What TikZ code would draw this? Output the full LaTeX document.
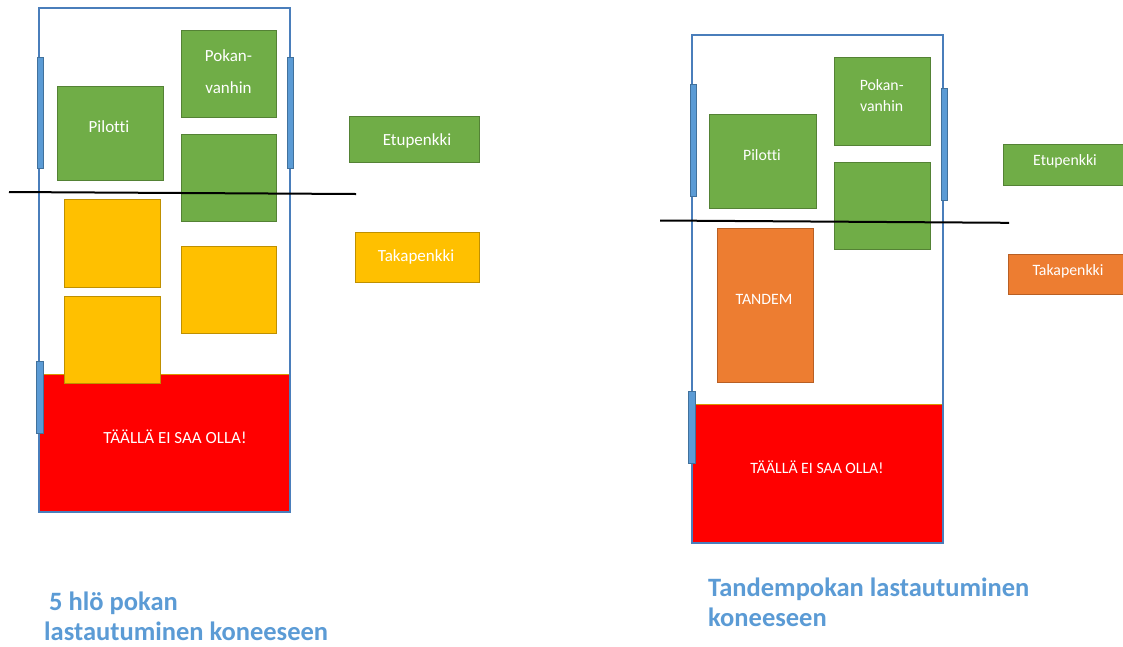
\documentclass[tikz,border=0pt]{standalone}
\usepackage{fontspec}
\setmainfont[Ligatures=NoCommon]{Carlito}

\definecolor{seatgreen}{HTML}{70AD47}
\definecolor{seatgreenline}{HTML}{548235}
\definecolor{seatyellow}{HTML}{FFC000}
\definecolor{seatyellowline}{HTML}{BF9000}
\definecolor{seatorange}{HTML}{ED7D31}
\definecolor{seatorangeline}{HTML}{B85F24}
\definecolor{nozone}{HTML}{FF0000}
\definecolor{nozoneline}{HTML}{D99400}
\definecolor{hullline}{HTML}{4A7EBB}
\definecolor{doorblue}{HTML}{5B9BD5}
\definecolor{doorline}{HTML}{41719C}
\definecolor{captionblue}{HTML}{5B9BD5}

\begin{document}
\begin{tikzpicture}[x=1pt, y=-1pt]
    \tikzstyle{hull}       = [shape = rectangle, draw = hullline, line width=1.3pt, inner sep=0pt]
    \tikzstyle{no_zone}    = [shape = rectangle, fill = nozone, draw = nozoneline, line width=0.8pt, inner sep=0pt]
    \tikzstyle{seat_g}     = [shape = rectangle, fill = seatgreen,  draw = seatgreenline,  line width=0.9pt, inner sep=0pt]
    \tikzstyle{seat_y}     = [shape = rectangle, fill = seatyellow, draw = seatyellowline, line width=0.9pt, inner sep=0pt]
    \tikzstyle{seat_o}     = [shape = rectangle, fill = seatorange, draw = seatorangeline, line width=0.9pt, inner sep=0pt]
    \tikzstyle{door}       = [shape = rectangle, fill = doorblue, draw = doorline, line width=0.7pt, inner sep=0pt, minimum width=6pt]
    \tikzstyle{seat_txt}   = [text = white, inner sep=0pt, font=\fontsize{17}{20}\selectfont]
    \tikzstyle{seat_txt__b}= [text = white, inner sep=0pt, font=\fontsize{15.8}{19}\selectfont]
    \tikzstyle{caption}    = [text = captionblue, inner sep=0pt, anchor=base west, font=\fontsize{26.5}{30}\selectfont\bfseries]

    \useasboundingbox (0,0) rectangle (1123,646);

    % 5 hlo poka
    \node[no_zone, minimum width=250pt, minimum height=138pt] at (164.5, 443.0) (red_a) {};
    \node[hull,    minimum width=251pt, minimum height=504pt] at (164.5, 260.0) (hull_a) {};

    \node[seat_g, minimum width=95pt,  minimum height=87pt] at (228.5,  73.5) (pok_a) {};
    \node[seat_g, minimum width=106pt, minimum height=94pt] at (110.0, 133.0) (pil_a) {};
    \node[seat_g, minimum width=95pt,  minimum height=87pt] at (228.5, 177.5) (front_a) {};
    \node[seat_y, minimum width=96pt,  minimum height=88pt] at (112.0, 243.0) (rear1_a) {};
    \node[seat_y, minimum width=96pt,  minimum height=87pt] at (112.0, 339.5) (rear2_a) {};
    \node[seat_y, minimum width=95pt,  minimum height=87pt] at (228.5, 289.5) (rear3_a) {};
    \node[seat_g, minimum width=130pt, minimum height=46pt] at (414.0, 139.0) (etu_a) {};
    \node[seat_y, minimum width=124pt, minimum height=50pt] at (417.0, 257.0) (taka_a) {};

    \node[door, minimum height=111pt] at ( 40.0, 112.5) (door1_a) {};
    \node[door, minimum height=111pt] at (290.0, 112.5) (door2_a) {};
    \node[door, minimum height=72pt, minimum width=7pt] at (39.5, 397.0) (door3_a) {};

    \coordinate (cg_a1) at (  9, 192);
    \coordinate (cg_a2) at (356, 194);
    \draw[black, line width=2pt] (cg_a1) -- (cg_a2);

    \node[seat_txt] at (109.0, 127.0) (pil_a_t) {Pilotti};
    \node[seat_txt, align=center, font=\fontsize{17}{31.6}\selectfont] at (228.5, 71.5) (pok_a_t) {Pokan-\\vanhin};
    \node[seat_txt] at (417.0, 141.0) (etu_a_t) {Etupenkki};
    \node[seat_txt] at (416.0, 257.0) (taka_a_t) {Takapenkki};
    \node[seat_txt] at (175.0, 437.0) (red_a_t) {TÄÄLLÄ EI SAA OLLA!};

    \node[caption] at (49.0, 610.0) (cap_a1) {5 hlö pokan};
    \node[caption] at (44.0, 640.0) (cap_a2) {lastautuminen koneeseen};

    % tandempoka
    \node[no_zone, minimum width=251pt, minimum height=139pt] at (817.5, 473.5) (red_b) {};
    \node[hull,    minimum width=251pt, minimum height=508pt] at (817.5, 289.0) (hull_b) {};

    \node[seat_g, minimum width=96pt,  minimum height=88pt]  at (882.0, 101.0) (pok_b) {};
    \node[seat_g, minimum width=107pt, minimum height=94pt]  at (762.5, 161.0) (pil_b) {};
    \node[seat_g, minimum width=96pt,  minimum height=87pt]  at (882.0, 205.5) (front_b) {};
    \node[seat_o, minimum width=96pt,  minimum height=154pt] at (765.0, 305.0) (tandem_b) {};
    \node[seat_g, minimum width=125pt, minimum height=41pt]  at (1065.5, 164.5) (etu_b) {};
    \node[seat_o, minimum width=120pt, minimum height=40pt]  at (1068.0, 274.0) (taka_b) {};

    \node[door, minimum height=112pt] at (693.0, 140.5) (door1_b) {};
    \node[door, minimum height=112pt] at (944.0, 144.5) (door2_b) {};
    \node[door, minimum height=72pt, minimum width=7pt] at (692.0, 427.0) (door3_b) {};

    \coordinate (cg_b1) at ( 660, 220.5);
    \coordinate (cg_b2) at (1009, 222.8);
    \draw[black, line width=2pt] (cg_b1) -- (cg_b2);

    \node[seat_txt__b] at (762.0, 155.0) (pil_b_t) {Pilotti};
    \node[seat_txt__b, align=center, font=\fontsize{15.8}{20.3}\selectfont] at (881.7, 95.6) (pok_b_t) {Pokan-\\vanhin};
    \node[seat_txt__b] at (764.0, 299.0) (tandem_b_t) {TANDEM};
    \node[seat_txt__b] at (1065.0, 161.0) (etu_b_t) {Etupenkki};
    \node[seat_txt__b] at (1068.0, 271.0) (taka_b_t) {Takapenkki};
    \node[seat_txt__b] at (817.0, 467.0) (red_b_t) {TÄÄLLÄ EI SAA OLLA!};

    \node[caption] at (708.0, 596.7) (cap_b1) {Tandempokan lastautuminen};
    \node[caption] at (708.0, 626.7) (cap_b2) {koneeseen};
\end{tikzpicture}
\end{document}
